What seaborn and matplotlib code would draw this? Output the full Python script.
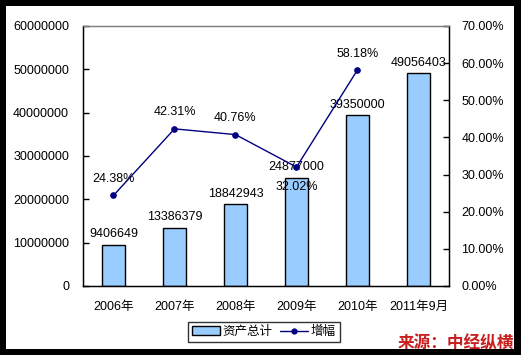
import numpy as np
import pandas as pd
import matplotlib
matplotlib.use('Agg')
import matplotlib.pyplot as plt
import seaborn as sns
from matplotlib.patches import Rectangle, Patch
from matplotlib.lines import Line2D
from matplotlib.ticker import FuncFormatter

# data
years = ['2006年', '2007年', '2008年', '2009年', '2010年', '2011年9月']
assets = [9406649, 13386379, 18842943, 24877000, 39350000, 49056403]
growth_years = ['2006年', '2007年', '2008年', '2009年', '2010年']
growth = [24.38, 42.31, 40.76, 32.02, 58.18]  # percent

sns.set_style('white')
plt.rcParams['font.family'] = ['Liberation Sans', 'Noto Sans CJK SC', 'DejaVu Sans']
plt.rcParams['text.color'] = 'black'
plt.rcParams['xtick.color'] = 'black'
plt.rcParams['ytick.color'] = 'black'
plt.rcParams['xtick.labelcolor'] = 'black'
plt.rcParams['ytick.labelcolor'] = 'black'

bar_df = pd.DataFrame({'year': years, 'assets': assets})
line_df = pd.DataFrame({'pos': np.arange(len(growth_years)), 'growth': growth})

fig = plt.figure(figsize=(5.21, 3.55), dpi=100)
fig.patch.set_facecolor('black')
# white inner panel inside the black frame
fig.patches.append(Rectangle((6 / 521, 6 / 355), 508 / 521, 343 / 355,
                             transform=fig.transFigure, facecolor='white',
                             edgecolor='none', zorder=-5))

ax = fig.add_axes([83 / 521, 69 / 355, 366 / 521, 260 / 355])
ax.set_facecolor('white')

sns.barplot(data=bar_df, x='year', y='assets', color='#99CCFF', edgecolor='black',
            linewidth=1, width=0.39, saturation=1, ax=ax, zorder=2)
ax.set_ylim(0, 60000000)
ax.set_yticks(np.arange(0, 60000001, 10000000))
ax.yaxis.set_major_formatter(FuncFormatter(lambda v, p: '%d' % v))
ax.set_xlim(-0.5, len(years) - 0.5)
ax.set_xlabel('')
ax.set_ylabel('')

# x ticks between categories, labels at centers
ax.set_xticks(np.arange(len(years)))
ax.set_xticklabels(years)
ax.set_xticks(np.arange(len(years) - 1) + 0.5, minor=True)
ax.tick_params(axis='x', which='major', length=0, pad=11, labelsize=9)
ax.tick_params(axis='x', which='minor', direction='in', length=4, width=1, color='black')
ax.tick_params(axis='y', direction='in', length=4, width=1, color='black', pad=10, labelsize=9)

for s in ['left', 'bottom', 'right']:
    ax.spines[s].set_color('black')
    ax.spines[s].set_linewidth(1)
ax.spines['top'].set_color('#808080')
ax.spines['top'].set_linewidth(1)

for i, v in enumerate(assets):
    ax.text(i, v + 1100000, str(v), ha='center', va='bottom', fontsize=9, color='black', zorder=3)

ax2 = ax.twinx()
sns.lineplot(data=line_df, x='pos', y='growth', color='#000080', linewidth=1,
             marker='o', markersize=4, markeredgecolor='#000080', ax=ax2, zorder=4)
ax2.set_ylim(0, 70)
ax2.set_yticks(np.arange(0, 71, 10))
ax2.yaxis.set_major_formatter(FuncFormatter(lambda v, p: '%.2f%%' % v))
ax2.tick_params(axis='y', direction='in', length=4, width=1, color='black', pad=9, labelsize=9)
ax2.set_xlim(-0.5, len(years) - 0.5)
ax2.set_xlabel('')
ax2.set_ylabel('')
for s in ['left', 'bottom', 'right']:
    ax2.spines[s].set_color('black')
ax2.spines['top'].set_color('#808080')

for i, g in enumerate(growth):
    if i == 3:
        ax2.text(i, g - 3.8, '%.2f%%' % g, ha='center', va='top', fontsize=9, color='black')
    else:
        ax2.text(i, g + 2.8, '%.2f%%' % g, ha='center', va='bottom', fontsize=9, color='black')

handles = [Patch(facecolor='#99CCFF', edgecolor='black', linewidth=1),
           Line2D([], [], color='#000080', linewidth=1, marker='o', markersize=3.5)]
leg = fig.legend(handles, ['资产总计', '增幅'], loc='center', ncol=2,
                 bbox_to_anchor=(264 / 521, 1 - 332 / 355), frameon=True, fancybox=False,
                 edgecolor='black', fontsize=9, handlelength=2.2, handleheight=0.7,
                 columnspacing=0.6, handletextpad=0.25, borderpad=0.35, borderaxespad=0)
leg.get_frame().set_linewidth(1)
for t in leg.get_texts():
    t.set_color('black')

fig.text(514 / 521, 1 - 343 / 355, '来源：中经纵横', ha='right', va='center',
         fontsize=12, fontweight='bold', color='#C8201E',
         family=['Noto Sans CJK SC', 'DejaVu Sans'])

fig.savefig('out.png', dpi=100, facecolor=fig.get_facecolor())
